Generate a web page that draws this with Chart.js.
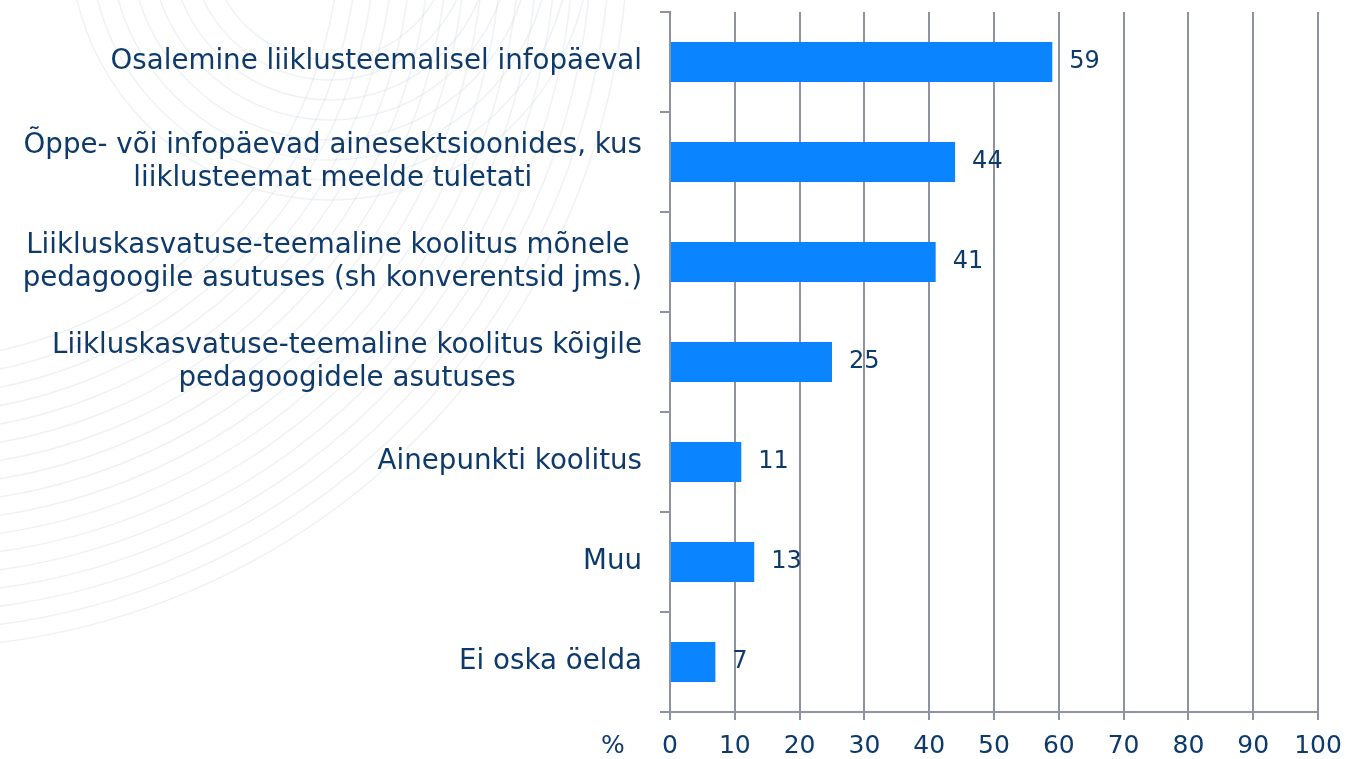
<!DOCTYPE html>
<html>
<head>
<meta charset="utf-8">
<script src="https://cdn.jsdelivr.net/npm/chart.js@4"></script>
<style>
html, body { margin: 0; padding: 0; background: #fff; }
#wrap { width: 1346px; height: 759px; position: relative; }
</style>
</head>
<body>
<div id="wrap"><canvas id="c"></canvas></div>
<script>
var labels = [
    ["Osalemine liiklusteemalisel infopäeval"],
    ["Õppe- või infopäevad ainesektsioonides, kus", "liiklusteemat meelde tuletati"],
    ["Liikluskasvatuse-teemaline koolitus mõnele ", "pedagoogile asutuses (sh konverentsid jms.)"],
    ["Liikluskasvatuse-teemaline koolitus kõigile", "pedagoogidele asutuses"],
    ["Ainepunkti koolitus"],
    ["Muu"],
    ["Ei oska öelda"]
];
var values = [59, 44, 41, 25, 11, 13, 7];
var axisUnit = "%";

var navy = '#0e3a6b';
var gridCol = '#8e92a1';
var font = '"DejaVu Sans", Verdana, sans-serif';

// faint decorative swirl in the top left corner
var bgPlugin = {
    id: 'bgSwirl',
    beforeDraw: function(chart) {
        var ctx = chart.ctx;
        ctx.save();
        ctx.strokeStyle = 'rgba(190,202,216,0.25)';
        ctx.lineWidth = 1.5;
        for (var r = 430; r <= 720; r += 18) {
            ctx.beginPath();
            ctx.arc(-90, -70, r, 0, Math.PI / 2);
            ctx.stroke();
        }
        for (var r = 120; r <= 260; r += 20) {
            ctx.beginPath();
            ctx.arc(330, -60, r, 0.2, Math.PI - 0.2);
            ctx.stroke();
        }
        ctx.restore();
    }
};

// category labels: block right aligned, lines centred inside the block
var labelPlugin = {
    id: 'catLabels',
    afterDraw: function(chart) {
        var ctx = chart.ctx;
        var ys = chart.scales.y;
        var xs = chart.scales.x;
        ctx.save();
        ctx.fillStyle = navy;
        ctx.font = '27.7px ' + font;
        ctx.textBaseline = 'middle';
        ctx.textAlign = 'center';
        var lh = 33;
        for (var i = 0; i < labels.length; i++) {
            var lines = labels[i];
            var w = 0;
            for (var j = 0; j < lines.length; j++) {
                w = Math.max(w, ctx.measureText(lines[j]).width);
            }
            var cx = xs.left - 28 - w / 2;
            var cy = ys.getPixelForValue(i);
            for (var j = 0; j < lines.length; j++) {
                ctx.fillText(lines[j], cx, cy + (j - (lines.length - 1) / 2) * lh);
            }
        }
        // unit label left of x ticks
        ctx.font = '25px ' + font;
        ctx.fillText(axisUnit, xs.left - 57, xs.top + 34);
        // value labels
        ctx.font = '24px ' + font;
        ctx.textAlign = 'left';
        var meta = chart.getDatasetMeta(0);
        meta.data.forEach(function(bar, k) {
            ctx.fillText(String(values[k]), bar.x + 17, bar.y);
        });
        ctx.restore();
    }
};

var ctx = document.getElementById('c').getContext('2d');
var chart = new Chart(ctx, {
    type: 'bar',
    data: {
        labels: labels,
        datasets: [{
            data: values,
            backgroundColor: '#0a84ff',
            borderWidth: 0,
            barPercentage: 1,
            categoryPercentage: 0.4
        }]
    },
    options: {
        indexAxis: 'y',
        responsive: true,
        maintainAspectRatio: false,
        animation: false,
        layout: { padding: { top: 12, right: 28, bottom: 0, left: 0 } },
        plugins: {
            legend: { display: false },
            tooltip: { enabled: false }
        },
        scales: {
            x: {
                min: 0,
                max: 100,
                ticks: {
                    stepSize: 10,
                    color: navy,
                    font: { family: font, size: 25 },
                    padding: 11
                },
                grid: {
                    color: gridCol,
                    lineWidth: 2,
                    tickLength: 8
                },
                border: { color: gridCol, width: 2 },
                afterFit: function(s) {
                    s.height = 47;
                    s.paddingRight = 0;
                    s.paddingLeft = 0;
                }
            },
            y: {
                ticks: { display: false },
                grid: {
                    offset: true,
                    drawOnChartArea: false,
                    color: gridCol,
                    lineWidth: 2,
                    tickLength: 10
                },
                border: { color: gridCol, width: 2 },
                afterFit: function(s) { s.width = 670; }
            }
        }
    },
    plugins: [bgPlugin, labelPlugin]
});
</script>
</body>
</html>
